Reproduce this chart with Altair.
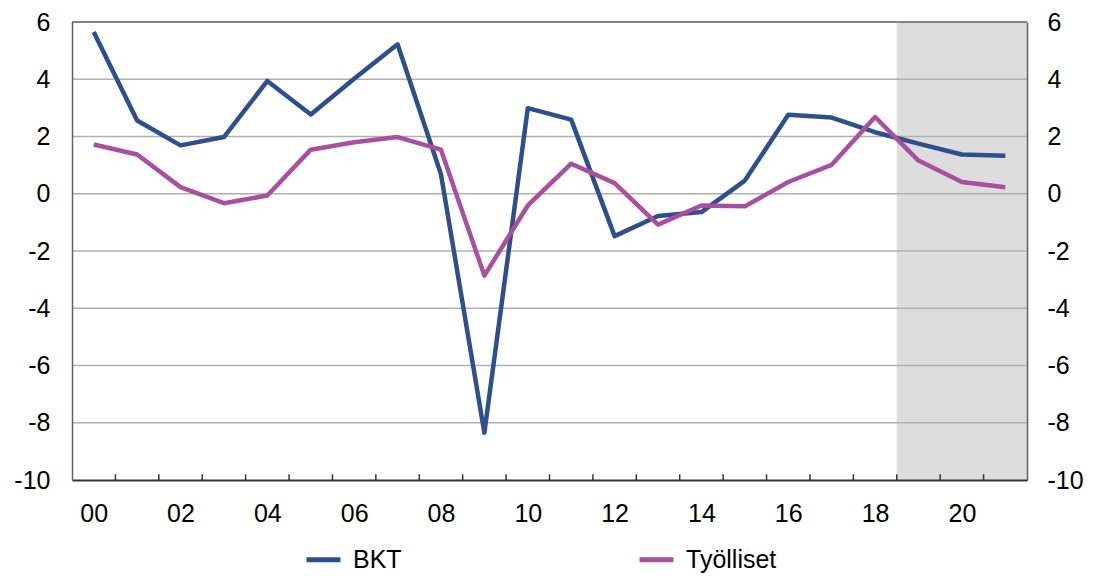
import altair as alt
import pandas as pd

years = list(range(2000, 2022))
bkt = [5.65, 2.56, 1.69, 1.98, 3.94, 2.77, 4.02, 5.22, 0.68, -8.35, 2.99, 2.59,
       -1.48, -0.78, -0.64, 0.46, 2.76, 2.66, 2.15, 1.75, 1.37, 1.33]
tyolliset = [1.72, 1.37, 0.23, -0.33, -0.06, 1.54, 1.80, 1.98, 1.54, -2.86, -0.41, 1.05,
             0.37, -1.08, -0.41, -0.44, 0.41, 1.01, 2.68, 1.16, 0.41, 0.23]
series_names = ["BKT", "Työlliset"]
series_colors = ["#2d4f8e", "#a84f9f"]
forecast_start = [2018.5]
forecast_end = [2021.5]
grid_values = [-8, -6, -4, -2, 0, 2, 4]
top_value = [6]
tick_positions = [y + 0.5 for y in range(2000, 2021)]
y_min, y_max = -10, 6
y_labels = list(range(-10, 7, 2))
label_years = list(range(2000, 2021, 2))

FONT = "Liberation Sans"
W, H = 955, 458

long_df = pd.DataFrame({
    "year": years * 2,
    "value": bkt + tyolliset,
    "series": [series_names[0]] * len(years) + [series_names[1]] * len(years),
})

xscale = alt.Scale(domain=[1999.5, 2021.5], nice=False, zero=False)
yscale = alt.Scale(domain=[y_min, y_max], nice=False, zero=False)

x_axis = alt.Axis(values=label_years, ticks=False, grid=False, domain=True,
                  domainColor="#333333", domainWidth=2,
                  labelFont=FONT, labelFontSize=25, labelColor="#000000",
                  labelPadding=21, title=None, zindex=1,
                  labelExpr="(datum.value % 100) < 10 ? '0' + (datum.value % 100) : '' + (datum.value % 100)")

shade = alt.Chart(pd.DataFrame({"s": forecast_start, "e": forecast_end})).mark_rect(
    color="#dddddd"
).encode(
    x=alt.X("s:Q", scale=xscale, axis=x_axis),
    x2="e:Q",
    y=alt.datum(y_min, scale=yscale, axis=None),
    y2=alt.datum(y_max),
)

grid = alt.Chart(pd.DataFrame({"g": grid_values})).mark_rule(
    color="#b0b0b0", strokeWidth=1.5
).encode(
    y=alt.Y("g:Q", scale=yscale, axis=None),
)

top = alt.Chart(pd.DataFrame({"t": top_value})).mark_rule(
    color="#606060", strokeWidth=1.5
).encode(
    y=alt.Y("t:Q", scale=yscale,
            axis=alt.Axis(orient="right", values=y_labels, ticks=False,
                          grid=False, domain=True, domainColor="#606060", domainWidth=1.5,
                          labelFont=FONT, labelFontSize=25, labelColor="#000000",
                          labelPadding=20, labelAlign="left", labelBaseline="middle",
                          labelExpr="'' + datum.value",
                          title=None, zindex=1, labelBound=False)),
)

lines = alt.Chart(long_df).mark_line(strokeWidth=4.5, strokeJoin="round").encode(
    x=alt.X("year:Q", scale=xscale, axis=x_axis),
    y=alt.Y("value:Q", scale=yscale,
            axis=alt.Axis(orient="left", values=y_labels, ticks=False,
                          grid=False, domain=True, domainColor="#606060", domainWidth=1.5,
                          labelFont=FONT, labelFontSize=25, labelColor="#000000",
                          labelPadding=22, labelExpr="'' + datum.value",
                          title=None, zindex=1)),
    color=alt.Color("series:N",
                    scale=alt.Scale(domain=series_names, range=series_colors),
                    legend=alt.Legend(orient="none", legendX=232, legendY=518,
                                      direction="horizontal", title=None,
                                      symbolType="stroke", symbolSize=1150,
                                      symbolStrokeWidth=5, labelFont=FONT,
                                      labelFontSize=25, labelColor="#000000",
                                      labelOffset=10, columnPadding=227,
                                      symbolOffset=0)),
)

ticks = alt.Chart(pd.DataFrame({"tp": tick_positions})).mark_rule(
    color="#333333", strokeWidth=1.5
).encode(
    x=alt.X("tp:Q", scale=xscale, axis=x_axis),
    y=alt.datum(y_min, scale=yscale, axis=None),
    y2=alt.datum(y_min + 0.2),
)

chart = alt.layer(shade, grid, top, lines, ticks).resolve_scale(
    y="independent"
).properties(
    width=W, height=H,
    autosize=alt.AutoSizeParams(type="none"),
    padding={"left": 64, "top": 14, "right": 58, "bottom": 95},
).configure_view(stroke=None).configure(background="white")

chart.save("out.html", embed_options={"renderer": "svg", "actions": False})
